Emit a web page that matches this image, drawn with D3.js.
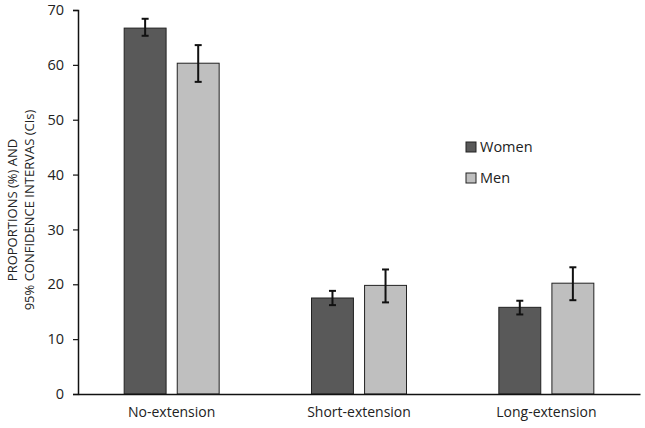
<!DOCTYPE html>
<html>
<head>
<meta charset="utf-8">
<script src="https://cdn.jsdelivr.net/npm/d3@7"></script>
<style>
  body { margin: 0; background: #fff; }
  svg text { font-family: "Open Sans", "Liberation Sans", sans-serif; fill: #222; }
</style>
</head>
<body>
<div id="chart"></div>
<script>
const categories = ['No-extension', 'Short-extension', 'Long-extension'];
const seriesNames = ['Women', 'Men'];
const womenValues = [66.7, 17.5, 15.8];
const womenLow = [65.3, 16.2, 14.5];
const womenHigh = [68.4, 18.8, 17.0];
const menValues = [60.3, 19.8, 20.2];
const menLow = [56.9, 16.7, 17.1];
const menHigh = [63.6, 22.7, 23.1];
const yTicks = [0, 10, 20, 30, 40, 50, 60, 70];
const colors = ['#595959', '#bfbfbf'];

const width = 645, height = 428;
const margin = { top: 10, right: 5, bottom: 34, left: 78 };

const svg = d3.select('#chart').append('svg')
    .attr('width', width)
    .attr('height', height);

const x = d3.scaleBand()
    .domain(categories)
    .range([margin.left, width - margin.right]);

const xInner = d3.scaleBand()
    .domain(seriesNames)
    .range([0, x.bandwidth()])
    .paddingInner(0.21)
    .paddingOuter(0.87);

const y = d3.scaleLinear()
    .domain([0, 70])
    .range([height - margin.bottom, margin.top]);

const data = categories.map((c, i) => ({
    category: c,
    values: [
        { series: 'Women', value: womenValues[i], low: womenLow[i], high: womenHigh[i] },
        { series: 'Men', value: menValues[i], low: menLow[i], high: menHigh[i] }
    ]
}));

// y axis
const yAxis = svg.append('g')
    .attr('transform', `translate(${margin.left},0)`)
    .call(d3.axisLeft(y).tickValues(yTicks).tickSize(5).tickPadding(9));
yAxis.select('.domain').attr('stroke', '#111').attr('stroke-width', 1.5);
yAxis.selectAll('.tick line').attr('stroke', '#111').attr('stroke-width', 1.2);
yAxis.selectAll('.tick text').attr('font-size', '14.5px').style('fill', '#222');

// bars
const group = svg.append('g').selectAll('g')
    .data(data)
    .enter().append('g')
    .attr('transform', d => `translate(${x(d.category)},0)`);

group.selectAll('rect')
    .data(d => d.values)
    .enter().append('rect')
    .attr('x', d => xInner(d.series))
    .attr('y', d => y(d.value))
    .attr('width', xInner.bandwidth())
    .attr('height', d => y(0) - y(d.value))
    .attr('fill', (d, i) => colors[i])
    .attr('stroke', '#222')
    .attr('stroke-width', 1);

// error bars
const err = group.selectAll('.err')
    .data(d => d.values)
    .enter().append('g')
    .attr('class', 'err')
    .attr('transform', d => `translate(${xInner(d.series) + xInner.bandwidth() / 2},0)`);

err.append('line')
    .attr('y1', d => y(d.low))
    .attr('y2', d => y(d.high))
    .attr('stroke', '#111')
    .attr('stroke-width', 2);
err.selectAll('.cap')
    .data(d => [d.low, d.high])
    .enter().append('line')
    .attr('x1', -3.5).attr('x2', 3.5)
    .attr('y1', v => y(v)).attr('y2', v => y(v))
    .attr('stroke', '#111')
    .attr('stroke-width', 2);

// x axis
const xAxis = svg.append('g')
    .attr('transform', `translate(0,${y(0)})`)
    .call(d3.axisBottom(x).tickSize(0).tickPadding(13));
xAxis.select('.domain').attr('stroke', '#111').attr('stroke-width', 1.5);
xAxis.selectAll('.tick text').attr('font-size', '14px').style('fill', '#222');

// y label
const yLabel = svg.append('text')
    .attr('transform', `translate(21,${(y(0) + y(70)) / 2 + 8}) rotate(-90)`)
    .attr('text-anchor', 'middle')
    .attr('font-size', '13px');
yLabel.append('tspan').attr('x', 0).attr('dy', '-0.3em').text('PROPORTIONS (%) AND');
yLabel.append('tspan').attr('x', 0).attr('dy', '1.3em').text('95% CONFIDENCE INTERVAS (CIs)');

// legend
const legend = svg.append('g')
    .attr('transform', 'translate(466,147)');
const item = legend.selectAll('g')
    .data(seriesNames)
    .enter().append('g')
    .attr('transform', (d, i) => `translate(0,${i * 31})`);
item.append('rect')
    .attr('x', 0).attr('y', -5)
    .attr('width', 10).attr('height', 10)
    .attr('fill', (d, i) => colors[i])
    .attr('stroke', '#222')
    .attr('stroke-width', 1);
item.append('text')
    .attr('x', 14)
    .attr('dy', '0.35em')
    .attr('font-size', '14.5px')
    .text(d => d);
</script>
</body>
</html>
